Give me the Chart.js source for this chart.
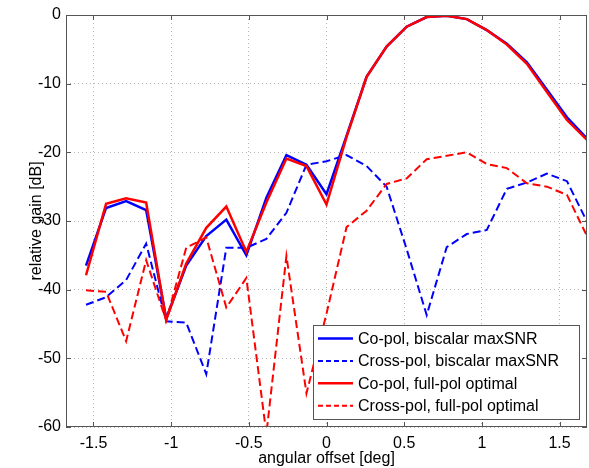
<!DOCTYPE html>
<html>
<head>
<meta charset="utf-8">
<script src="https://cdn.jsdelivr.net/npm/chart.js@4/dist/chart.umd.min.js"></script>
<style>
  html, body { margin: 0; padding: 0; background: #fff; }
  #wrap { width: 589px; height: 468px; }
</style>
</head>
<body>
<div id="wrap"><canvas id="graphCanvas" width="589" height="468"></canvas></div>
<script>
// angular offset [deg]
const angles = [-1.548, -1.419, -1.290, -1.161, -1.032, -0.903, -0.774, -0.645, -0.516, -0.387,
  -0.258, -0.129, 0, 0.129, 0.258, 0.387, 0.516, 0.645, 0.774, 0.903,
  1.032, 1.161, 1.290, 1.419, 1.548, 1.677];

// relative gain [dB]
const coPolBiscalar = [-36.5, -28.1, -27.1, -28.4, -44.2, -36.5, -32.2, -29.8, -35.0, -26.6,
  -20.4, -21.8, -26.1, -17.6, -9.0, -4.6, -1.7, -0.3, -0.1, -0.6,
  -2.2, -4.2, -6.9, -10.9, -14.9, -18.0];
const crossPolBiscalar = [-42.2, -41.1, -38.6, -33.3, -44.6, -44.8, -52.3, -33.9, -33.9, -32.6,
  -28.8, -21.8, -21.3, -20.4, -22.0, -25.0, -34.1, -43.7, -33.8, -31.9,
  -31.3, -25.3, -24.4, -23.1, -24.2, -30.1];
const coPolFull = [-37.9, -27.5, -26.7, -27.3, -44.4, -36.2, -31.0, -27.9, -34.5, -27.3,
  -20.9, -22.0, -27.6, -17.8, -9.0, -4.6, -1.7, -0.3, -0.1, -0.6,
  -2.2, -4.3, -7.1, -11.2, -15.3, -18.2];
const crossPolFull = [-40.1, -40.3, -47.5, -35.7, -44.5, -33.9, -32.4, -42.6, -38.3, -61.0,
  -35.1, -55.1, -43.5, -30.9, -28.5, -24.6, -23.8, -21.0, -20.5, -20.0,
  -21.7, -22.3, -24.5, -25.0, -26.2, -32.2];

const seriesLabels = ["Co-pol, biscalar maxSNR", "Cross-pol, biscalar maxSNR",
  "Co-pol, full-pol optimal", "Cross-pol, full-pol optimal"];

const xTicks = [-1.5, -1, -0.5, 0, 0.5, 1, 1.5];
const yTicks = [-60, -50, -40, -30, -20, -10, 0];

const FONT = "'Liberation Sans', Arial, sans-serif";

function toPoints(values) {
  return values.map((v, i) => ({ x: angles[i], y: v }));
}

const datasets = [
  { label: seriesLabels[0], data: toPoints(coPolBiscalar), borderColor: "#0000ff", borderWidth: 2.5, borderDash: [], order: 4 },
  { label: seriesLabels[1], data: toPoints(crossPolBiscalar), borderColor: "#0000ff", borderWidth: 2, borderDash: [8, 4], order: 3 },
  { label: seriesLabels[2], data: toPoints(coPolFull), borderColor: "#ff0000", borderWidth: 2.5, borderDash: [], order: 2 },
  { label: seriesLabels[3], data: toPoints(crossPolFull), borderColor: "#ff0000", borderWidth: 2, borderDash: [8, 4], order: 1 },
].map((d) => Object.assign(d, { type: "line", showLine: true, pointRadius: 0, fill: false, tension: 0 }));

// marco y marcas hacia dentro, estilo MATLAB
const framePlugin = {
  id: "frame",
  afterDatasetsDraw(chart) {
    const { ctx, chartArea: a, scales } = chart;
    ctx.save();
    ctx.strokeStyle = "#555";
    ctx.lineWidth = 1;
    ctx.setLineDash([]);
    ctx.strokeRect(a.left + 0.5, a.top + 0.5, a.right - a.left - 1, a.bottom - a.top - 1);
    ctx.beginPath();
    xTicks.forEach((t) => {
      const px = Math.round(scales.x.getPixelForValue(t)) + 0.5;
      ctx.moveTo(px, a.bottom); ctx.lineTo(px, a.bottom - 5);
      ctx.moveTo(px, a.top); ctx.lineTo(px, a.top + 5);
    });
    yTicks.forEach((t) => {
      const py = Math.round(scales.y.getPixelForValue(t)) + 0.5;
      ctx.moveTo(a.left, py); ctx.lineTo(a.left + 5, py);
      ctx.moveTo(a.right, py); ctx.lineTo(a.right - 5, py);
    });
    ctx.stroke();
    ctx.restore();
  },
};

// leyenda dentro del area del grafico
const legendPlugin = {
  id: "boxLegend",
  afterDraw(chart) {
    const { ctx } = chart;
    const box = { x: 313, y: 325, w: 266, h: 94 };
    ctx.save();
    ctx.fillStyle = "#fff";
    ctx.fillRect(box.x, box.y, box.w, box.h);
    ctx.strokeStyle = "#555";
    ctx.lineWidth = 1;
    ctx.strokeRect(box.x + 0.5, box.y + 0.5, box.w, box.h);
    ctx.font = "16px " + FONT;
    ctx.textBaseline = "middle";
    ctx.fillStyle = "#000";
    chart.data.datasets.forEach((ds, i) => {
      const y = box.y + 13.5 + i * 22.4;
      ctx.strokeStyle = ds.borderColor;
      ctx.lineWidth = ds.borderWidth;
      ctx.setLineDash(ds.borderDash.length ? [5, 3] : []);
      ctx.beginPath();
      ctx.moveTo(box.x + 5, y);
      ctx.lineTo(box.x + 40, y);
      ctx.stroke();
      ctx.fillText(ds.label, box.x + 45, y + 1);
    });
    ctx.restore();
  },
};

const ctx = document.getElementById("graphCanvas").getContext("2d");

new Chart(ctx, {
  type: "line",
  data: { datasets },
  options: {
    responsive: false,
    animation: false,
    layout: { padding: { top: 15, right: 2, left: 0, bottom: 0 } },
    plugins: { legend: { display: false }, tooltip: { enabled: false } },
    scales: {
      x: {
        type: "linear",
        min: -1.677,
        max: 1.677,
        afterBuildTicks: (s) => { s.ticks = xTicks.map((v) => ({ value: v })); },
        afterFit: (s) => { s.height = 41; },
        grid: { color: "#b8b8b8", lineWidth: 1, drawTicks: false },
        border: { display: false, dash: [1, 3] },
        ticks: { color: "#000", font: { family: FONT, size: 16 }, padding: 7, maxRotation: 0,
          callback: (v) => String(v) },
        title: { display: true, text: "angular offset [deg]", color: "#000",
          font: { family: FONT, size: 16 }, padding: { top: 0, bottom: 0 } },
      },
      y: {
        type: "linear",
        min: -60,
        max: 0,
        afterBuildTicks: (s) => { s.ticks = yTicks.map((v) => ({ value: v })); },
        afterFit: (s) => { s.width = 66; },
        grid: { color: "#b8b8b8", lineWidth: 1, drawTicks: false },
        border: { display: false, dash: [1, 3] },
        ticks: { color: "#000", font: { family: FONT, size: 16 }, padding: 5,
          callback: (v) => String(v) },
        title: { display: true, text: "relative gain [dB]", color: "#000",
          font: { family: FONT, size: 16 }, padding: { top: 27, bottom: 0 } },
      },
    },
  },
  plugins: [framePlugin, legendPlugin],
});
</script>
</body>
</html>
